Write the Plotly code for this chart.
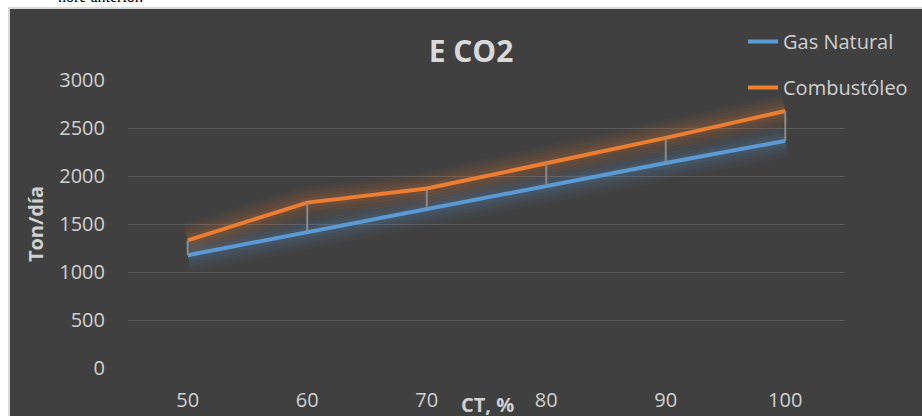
import plotly.graph_objects as go

# ---- data ----
ct = ["50", "60", "70", "80", "90", "100"]
gas_natural = [1175, 1417, 1655, 1896, 2135, 2366]
combustoleo = [1330, 1723, 1869, 2137, 2397, 2677]
y_ticks = [0, 500, 1000, 1500, 2000, 2500, 3000]

# ---- layout helpers (pixel -> paper) ----
W, H = 922, 416
L, R, T, B = 128, 77, 80, 48
PW, PH = W - L - R, H - T - B


def px_x(x):
    return (x - L) / PW


def px_y(y):
    return (H - B - y) / PH


BG = "#404040"
BLUE = "#5B9BD5"
ORANGE = "#ED7D31"
TXT = "#d0d0d0"
FONT = "Open Sans"

fig = go.Figure()

# glow layers
for color, vals in ((BLUE, gas_natural), (ORANGE, combustoleo)):
    for w, op in ((34, 0.035), (28, 0.04), (22, 0.05), (16, 0.06), (10, 0.08)):
        fig.add_trace(go.Scatter(
            x=ct, y=vals, mode="lines",
            line=dict(color=color, width=w), opacity=op,
            showlegend=False, hoverinfo="skip"))

# main series
fig.add_trace(go.Scatter(
    x=ct, y=gas_natural, mode="lines", name="Gas Natural",
    line=dict(color=BLUE, width=4), legendgroup="g"))
fig.add_trace(go.Scatter(
    x=ct, y=combustoleo, mode="lines", name="Combustóleo",
    line=dict(color=ORANGE, width=4), legendgroup="c"))

# high-low lines
hx, hy = [], []
for c, g, o in zip(ct, gas_natural, combustoleo):
    hx += [c, c, None]
    hy += [g, o, None]
fig.add_trace(go.Scatter(
    x=hx, y=hy, mode="lines", line=dict(color="#8a8a8a", width=2),
    showlegend=False, hoverinfo="skip"))

shapes = [
    dict(type="rect", xref="paper", yref="paper",
         x0=px_x(0), x1=px_x(W), y0=px_y(7), y1=px_y(0),
         fillcolor="white", line=dict(width=0), layer="above"),
    dict(type="rect", xref="paper", yref="paper",
         x0=px_x(0), x1=px_x(8), y0=px_y(H), y1=px_y(0),
         fillcolor="white", line=dict(width=0), layer="above"),
    dict(type="line", xref="paper", yref="paper",
         x0=px_x(8), x1=px_x(W), y0=px_y(8), y1=px_y(8),
         line=dict(color="#d9d9d9", width=2), layer="above"),
    dict(type="line", xref="paper", yref="paper",
         x0=px_x(9), x1=px_x(9), y0=px_y(8), y1=px_y(H),
         line=dict(color="#d9d9d9", width=2), layer="above"),
]

annotations = [
    dict(text="<b>CT, %</b>", xref="paper", yref="paper",
         x=px_x(487), y=px_y(404), xanchor="center", yanchor="middle",
         showarrow=False, font=dict(family=FONT, size=20, color=TXT)),
    dict(text="hore anterior.", xref="paper", yref="paper",
         x=px_x(145), y=px_y(7), xanchor="right", yanchor="bottom",
         showarrow=False,
         font=dict(family="Liberation Serif", size=16, color="black")),
]

fig.update_layout(
    width=W, height=H,
    margin=dict(l=L, r=R, t=T, b=B, autoexpand=False),
    paper_bgcolor=BG, plot_bgcolor=BG,
    font=dict(family=FONT, color=TXT, size=20),
    title=dict(text="<b>E CO2</b>", x=px_x(471), xref="paper",
               xanchor="center", y=1 - 51 / H, yref="container",
               yanchor="middle",
               font=dict(family=FONT, size=30, color="#d9d9d9")),
    xaxis=dict(type="category", range=[-0.5, len(ct) - 0.5],
               automargin=False,
               showgrid=False, zeroline=False,
               showline=False, ticks="outside", ticklen=14,
               tickcolor="rgba(0,0,0,0)",
               tickfont=dict(family=FONT, size=20, color=TXT)),
    yaxis=dict(range=[0, 3000], tickvals=y_ticks, automargin=False,
               gridcolor="#5a5a5a", gridwidth=1,
               zeroline=True, zerolinecolor=BG, showline=False,
               ticks="outside", ticklen=18, tickcolor="rgba(0,0,0,0)",
               tickfont=dict(family=FONT, size=20, color=TXT),
               title=dict(text="<b>Ton/día</b>", standoff=10,
                          font=dict(family=FONT, size=20, color=TXT))),
    legend=dict(x=px_x(743), y=px_y(22), xanchor="left", yanchor="top",
                bgcolor="rgba(0,0,0,0)", traceorder="grouped",
                tracegroupgap=17,
                font=dict(family=FONT, size=20, color=TXT)),
    shapes=shapes,
    annotations=annotations,
    showlegend=True,
)

fig.write_html("out.html",
               config={"displayModeBar": False},
               post_script="document.body.style.margin='0';")
